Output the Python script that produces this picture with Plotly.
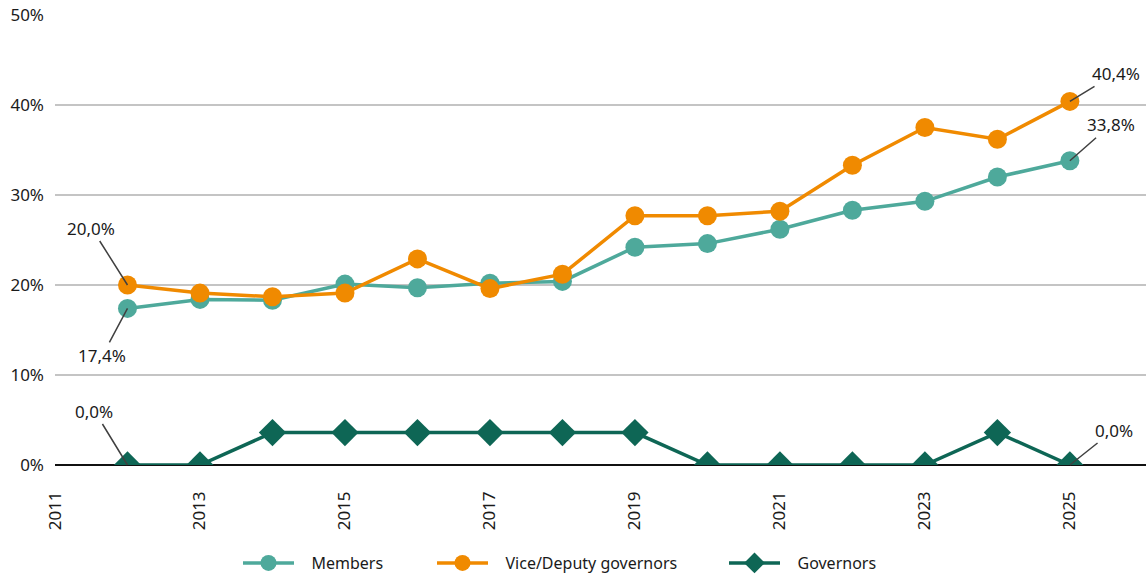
import plotly.graph_objects as go

years = list(range(2012, 2026))
members = [17.4, 18.4, 18.3, 20.1, 19.7, 20.2, 20.4, 24.2, 24.6, 26.2, 28.3, 29.3, 32.0, 33.8]
vice = [20.0, 19.1, 18.7, 19.1, 22.9, 19.6, 21.2, 27.7, 27.7, 28.2, 33.3, 37.5, 36.2, 40.4]
governors = [0.0, 0.0, 3.6, 3.6, 3.6, 3.6, 3.6, 3.6, 0.0, 0.0, 0.0, 0.0, 3.6, 0.0]
tick_years = list(range(2011, 2026, 2))
y_ticks = [0, 10, 20, 30, 40, 50]
series_names = ["Members", "Vice/Deputy governors", "Governors"]

C_MEM = "#4ea99b"
C_VICE = "#f08a00"
C_GOV = "#0e6655"
FONT = "Noto Sans"
TXT = "#1a1a1a"
PAD = "\u00a0\u00a0\u00a0"

fig = go.Figure()
fig.add_trace(go.Scatter(x=years, y=members, name=PAD + series_names[0], mode="lines+markers",
                         line=dict(color=C_MEM, width=3.5),
                         marker=dict(symbol="circle", size=19, color=C_MEM),
                         legend="legend"))
fig.add_trace(go.Scatter(x=years, y=vice, name=PAD + series_names[1], mode="lines+markers",
                         line=dict(color=C_VICE, width=3.5),
                         marker=dict(symbol="circle", size=19, color=C_VICE),
                         legend="legend2"))
fig.add_trace(go.Scatter(x=years, y=governors, name=PAD + series_names[2], mode="lines+markers",
                         line=dict(color=C_GOV, width=3.5),
                         marker=dict(symbol="diamond", size=21, color=C_GOV),
                         legend="legend3"))

def fmt(v):
    return f"{v:.1f}".replace(".", ",") + "%"

ann = [
    (years[0], vice[0], -36, -57),
    (years[0], members[0], -25, 47),
    (years[0], governors[0], -33, -54),
    (years[-1], vice[-1], 46, -28),
    (years[-1], members[-1], 41, -36),
    (years[-1], governors[-1], 44, -35),
]
for x, y, ax, ay in ann:
    fig.add_annotation(x=x, y=y, text=fmt(y), showarrow=True, ax=ax, ay=ay,
                       arrowhead=0, arrowwidth=1.5, arrowcolor="#404040",
                       font=dict(family=FONT, size=17, color=TXT))

def leg(xpx):
    return dict(orientation="h", x=(xpx - 55) / 1091, xanchor="left",
                y=-0.2178, yanchor="middle", bgcolor="rgba(0,0,0,0)",
                font=dict(family=FONT, size=16, color=TXT), itemwidth=51)

fig.update_layout(
    width=1146, height=577,
    margin=dict(l=55, r=0, t=15, b=112, autoexpand=False),
    plot_bgcolor="white", paper_bgcolor="white",
    font=dict(family=FONT, size=17, color=TXT),
    showlegend=True,
    legend=leg(238),
    legend2=leg(432),
    legend3=leg(724),
    xaxis=dict(range=[2011, 2026.05], tickvals=tick_years, ticktext=[str(t) for t in tick_years],
               tickangle=-90, showgrid=False, zeroline=False, showline=False, automargin=False,
               ticks="", ticklabelstandoff=22, tickfont=dict(family=FONT, size=17, color=TXT)),
    yaxis=dict(range=[0, 50], tickvals=y_ticks, ticktext=[f"{t}%" for t in y_ticks],
               showgrid=True, gridcolor="#c4c4c4", gridwidth=1.5, automargin=False,
               zeroline=True, zerolinecolor="#111111", zerolinewidth=1.5,
               showline=False, ticks="", ticklabelstandoff=10,
               tickfont=dict(family=FONT, size=17, color=TXT)),
)
fig.write_html("out.html")
